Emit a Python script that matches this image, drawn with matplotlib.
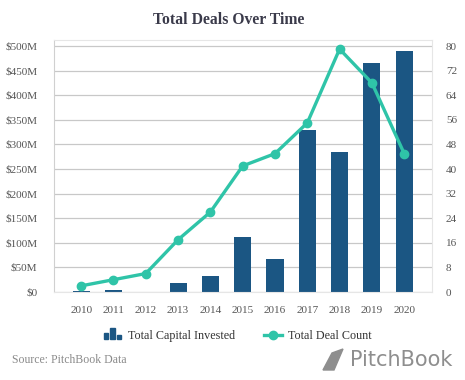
import numpy as np
import matplotlib
matplotlib.use('Agg')
import matplotlib.pyplot as plt
from matplotlib.lines import Line2D
from matplotlib.patches import Polygon, Rectangle
from matplotlib.legend_handler import HandlerBase

YEARS = ['2010', '2011', '2012', '2013', '2014', '2015', '2016',
         '2017', '2018', '2019', '2020']
CAPITAL_M = [2, 5, 0.8, 17.5, 32, 111, 68, 329, 284, 465, 489]
DEAL_COUNT = [2, 4, 6, 17, 26, 41, 45, 55, 79, 68, 45]
LEFT_TICKS = [0, 50, 100, 150, 200, 250, 300, 350, 400, 450, 500]
RIGHT_TICKS = [0, 8, 16, 24, 32, 40, 48, 56, 64, 72, 80]

BAR_C = '#1b5683'
LINE_C = '#2fc4a8'
TXT_C = '#555555'
SERIF = ['Liberation Serif', 'DejaVu Serif']

plt.rcParams['font.family'] = SERIF


class BarIconHandler(HandlerBase):
    # little three-bar icon like the one in the legend
    def create_artists(self, legend, orig, xd, yd, w, h, fs, trans):
        bw = w / 4.2
        heights = [0.55, 1.0, 0.35]
        arts = []
        for i, hh in enumerate(heights):
            r = Rectangle((xd + i * bw * 1.5, yd - 0.1 * h), bw, h * 1.15 * hh,
                          color=BAR_C, transform=trans)
            arts.append(r)
        return arts


fig = plt.figure(figsize=(4.65, 3.8), dpi=100)
ax = fig.add_axes([54 / 465, 1 - 292 / 380, 378 / 465, 252 / 380])
x = np.arange(len(YEARS))
ymax = 512.2

ax.bar(x, CAPITAL_M, width=0.53, color=BAR_C, zorder=2)
ax.set_xlim(-0.84, 10.86)
ax.set_ylim(0, ymax)
ax.set_yticks(LEFT_TICKS)
ax.set_yticklabels([f'${v}M' if v else '$0' for v in LEFT_TICKS])
ax.set_xticks(x)
ax.set_xticklabels(YEARS)
ax.tick_params(length=0, labelsize=8, colors=TXT_C)
ax.tick_params(axis='y', pad=12)
ax.tick_params(axis='x', pad=10)
ax.grid(axis='y', color='#c8c8c8', linewidth=0.9, zorder=0)
ax.set_axisbelow(True)
for s in ax.spines.values():
    s.set_color('#e6e6e6')
    s.set_linewidth(0.8)
ax.spines['left'].set_color('#d0d0d0')

ax2 = ax.twinx()
ax2.plot(x, DEAL_COUNT, color=LINE_C, linewidth=2.4, marker='o',
         markersize=6, zorder=3)
ax2.set_ylim(0, ymax * 80 / 500)
ax2.set_yticks(RIGHT_TICKS)
ax2.tick_params(length=0, labelsize=8, colors=TXT_C, pad=10)
for s in ax2.spines.values():
    s.set_visible(False)

fig.text(229 / 465, 1 - 20 / 380, 'Total Deals Over Time', ha='center',
         va='center', fontsize=11.3, fontweight='bold', color='#3a3a4a')

# legend
handles = [
    Rectangle((0, 0), 1, 1, color=BAR_C),
    Line2D([0], [0], color=LINE_C, linewidth=2.4, marker='o', markersize=6),
]
leg = fig.legend(handles, ['Total Capital Invested', 'Total Deal Count'],
                 loc='center', bbox_to_anchor=(238 / 465, 1 - 336 / 380),
                 ncol=2, frameon=False, fontsize=8.7, handlelength=1.5,
                 handleheight=0.9, columnspacing=2.4, handletextpad=0.5,
                 handler_map={Rectangle: BarIconHandler()})
for t in leg.get_texts():
    t.set_color('#333333')

fig.text(12 / 465, 1 - 360 / 380, 'Source: PitchBook Data', ha='left',
         va='center', fontsize=8.5, color='#8a8a8a')
fig.text(401 / 465, 1 - 360 / 380, 'PitchBook', ha='center',
         va='center', fontsize=15, color='#8e8e8e', family='DejaVu Sans')
logo = Polygon([[323 / 465, 1 - 370 / 380], [332 / 465, 1 - 353 / 380],
                [343 / 465, 1 - 349 / 380], [334 / 465, 1 - 370 / 380]],
               closed=True, transform=fig.transFigure, color='#8e8e8e')
fig.patches.append(logo)

fig.savefig('out.png', dpi=100)
